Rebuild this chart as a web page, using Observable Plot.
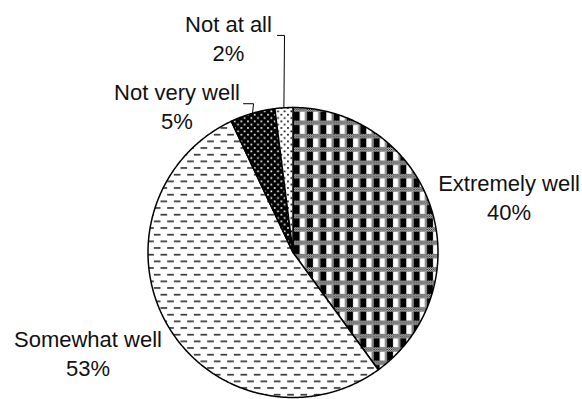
<!DOCTYPE html>
<html>
<head>
<meta charset="utf-8">
<script src="https://cdn.jsdelivr.net/npm/d3@7"></script>
<script src="https://cdn.jsdelivr.net/npm/@observablehq/plot@0.6"></script>
<style>
  html, body { margin: 0; padding: 0; background: #fff; }
</style>
</head>
<body>
<div id="chart"></div>
<script>
// Survey answers, clockwise from 12 o'clock
const categories = ["Extremely well", "Somewhat well", "Not very well", "Not at all"];
const shares = [40, 53, 5, 2];
const valueLabels = ["40%", "53%", "5%", "2%"];

// Fill pattern used by each slice (defined in <defs> below)
const slicePatterns = ["plaid", "dashes", "darkDots", "lightDots"];

// Pie placement in pixels
const cx = 292.5, cy = 252, R = 145;

// Label blocks, in pie-radius units: x = text centre, y = top of first line
const labelAnchors = [[1.49, 0.563], [-1.414, -0.513], [-0.80, 1.19], [-0.445, 1.659]];
// Leader elbows for the two small slices (index into categories -> [start, elbow])
const leaderElbows = {
  2: [[-0.341, 1.026], [-0.272, 1.026]],
  3: [[-0.107, 1.497], [-0.0586, 1.497]]
};

const rows = categories.map((name, i) => ({name, share: shares[i], label: valueLabels[i], pattern: slicePatterns[i]}));
const arcs = d3.pie().sort(null).value(d => d.share)(rows);

// Each slice as a closed outline: centre -> arc -> centre
const step = Math.PI / 360;
const slices = arcs.map(a => {
  const n = Math.max(2, Math.ceil((a.endAngle - a.startAngle) / step));
  const pts = [{x: 0, y: 0}];
  for (let i = 0; i <= n; i++) {
    const t = a.startAngle + (a.endAngle - a.startAngle) * i / n;
    pts.push({x: Math.sin(t), y: Math.cos(t)});
  }
  pts.push({x: 0, y: 0});
  return {data: a.data, pts};
});

// Leader lines run from the label to the slice's mid-angle on the rim
const leaders = [];
for (const [k, elbow] of Object.entries(leaderElbows)) {
  const a = arcs[+k];
  const mid = (a.startAngle + a.endAngle) / 2;
  elbow.forEach(([x, y]) => leaders.push({key: k, x, y}));
  leaders.push({key: k, x: Math.sin(mid), y: Math.cos(mid)});
}

const labels = rows.map((d, i) => ({x: labelAnchors[i][0], y: labelAnchors[i][1], text: `${d.name}\n${d.label}`}));

const chart = Plot.plot({
  width: 582,
  height: 399,
  margin: 0,
  x: {domain: [-1, 1], range: [cx - R, cx + R], axis: null},
  y: {domain: [-1, 1], range: [cy + R, cy - R], axis: null},
  style: {background: "#fff", color: "#000", fontFamily: "'Liberation Sans', Arial, sans-serif"},
  marks: [
    ...slices.map(s => Plot.line(s.pts, {
      x: "x", y: "y",
      fill: `url(#pat-${s.data.pattern})`,
      stroke: "#000", strokeWidth: 1.5, strokeLinejoin: "round"
    })),
    Plot.line(leaders, {x: "x", y: "y", z: "key", stroke: "#000", strokeWidth: 1}),
    Plot.text(labels, {
      x: "x", y: "y", text: "text",
      textAnchor: "middle", lineAnchor: "top", lineHeight: 1.3,
      fontSize: 22, fill: "#111"
    })
  ]
});

// Monochrome fill patterns
const u = 5 / 3;          // one pattern pixel
const tile = 8 * u;
const defs = d3.select(chart).insert("defs", ":first-child");

const checker = defs.append("pattern").attr("id", "pat-checker")
  .attr("patternUnits", "userSpaceOnUse").attr("width", 2).attr("height", 2);
checker.append("rect").attr("width", 2).attr("height", 2).attr("fill", "#fff");
checker.append("rect").attr("width", 1).attr("height", 1).attr("fill", "#000");
checker.append("rect").attr("x", 1).attr("y", 1).attr("width", 1).attr("height", 1).attr("fill", "#000");

// plaid: checkered horizontal band over a row of black and white blocks
const plaid = defs.append("pattern").attr("id", "pat-plaid")
  .attr("patternUnits", "userSpaceOnUse").attr("width", tile).attr("height", tile);
plaid.append("rect").attr("width", tile).attr("height", tile).attr("fill", "#fff");
plaid.append("rect").attr("width", tile).attr("height", 2.7 * u).attr("fill", "url(#pat-checker)");
plaid.append("rect").attr("x", 0).attr("y", 2.7 * u).attr("width", 3.5 * u).attr("height", 5.3 * u).attr("fill", "#000");
plaid.append("rect").attr("x", 6.6 * u).attr("y", 2.7 * u).attr("width", 1.4 * u).attr("height", 5.3 * u).attr("fill", "url(#pat-checker)");

const dashes = defs.append("pattern").attr("id", "pat-dashes")
  .attr("patternUnits", "userSpaceOnUse").attr("width", tile).attr("height", tile);
dashes.append("rect").attr("width", tile).attr("height", tile).attr("fill", "#fff");
dashes.append("rect").attr("x", 0).attr("y", 0).attr("width", 4 * u).attr("height", u).attr("fill", "#333");
dashes.append("rect").attr("x", 4 * u).attr("y", 4 * u).attr("width", 4 * u).attr("height", u).attr("fill", "#333");

function dots(id, bg, fg) {
  const p = defs.append("pattern").attr("id", id)
    .attr("patternUnits", "userSpaceOnUse").attr("width", 4 * u).attr("height", 4 * u);
  p.append("rect").attr("width", 4 * u).attr("height", 4 * u).attr("fill", bg);
  p.append("rect").attr("x", 0).attr("y", 0).attr("width", u).attr("height", u).attr("fill", fg);
  p.append("rect").attr("x", 2 * u).attr("y", 2 * u).attr("width", u).attr("height", u).attr("fill", fg);
}
dots("pat-darkDots", "#000", "#fff");
dots("pat-lightDots", "#fff", "#000");

document.getElementById("chart").appendChild(chart);
</script>
</body>
</html>
